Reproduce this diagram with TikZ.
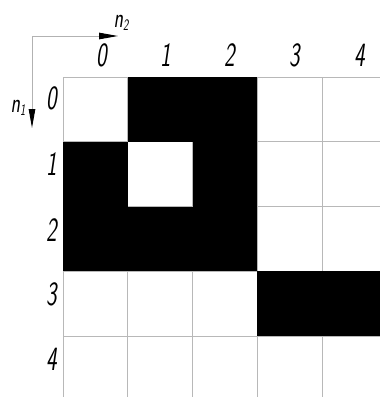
\documentclass[tikz,border=0pt]{standalone}
\usepackage{fontspec}
\usetikzlibrary{arrows.meta}
\begin{document}
\begin{tikzpicture}[x=1pt,y=-1pt,
  gridline/.style={draw=black!28,line width=0.9pt},
  axisline/.style={draw=black!30,line width=1pt},
  tipstyle/.style={-{Triangle[length=19pt,width=6.5pt,color=black]}},
  lbl/.style={inner sep=0pt,font=\fontsize{34}{34}\sffamily\itshape,xscale=0.66},
  nlbl/.style={inner sep=0pt,font=\fontsize{28}{28}\sffamily\itshape,xscale=0.7},
  cell/.style={fill=black}]
\useasboundingbox (0,0) rectangle (380,397);
\def\cw{64.75}
\begin{scope}
\clip (0,0) rectangle (380,397);
% grid
\foreach \k in {0,...,5}{
  \draw[gridline] ({63+\k*\cw},77) -- ({63+\k*\cw},400);
  \draw[gridline] (63,{77+\k*\cw}) -- (390,{77+\k*\cw});
}
% black cells (row, col)
\foreach \r/\c in {0/1,0/2,1/0,1/2,2/0,2/1,2/2,3/3,3/4}{
  \fill[cell] ({63+\c*\cw},{77+\r*\cw}) rectangle ++(\cw,\cw);
}
\end{scope}
% axes
\coordinate (o) at (32,36);
\coordinate (xe) at (118,36);
\coordinate (ye) at (32,128);
\draw[axisline,tipstyle] (o) -- (xe);
\draw[axisline,tipstyle] (o) -- (ye);
\node[nlbl] (n2) at (121,23) {n\raisebox{-0.3ex}{\fontsize{16}{16}\selectfont 2}};
\node[nlbl] (n1) at (18,108) {n\raisebox{-0.3ex}{\fontsize{16}{16}\selectfont 1}};
% column labels
\node[lbl] (c0) at (102,55) {0};
\node[lbl] (c1) at (166,55) {1};
\node[lbl] (c2) at (230,55) {2};
\node[lbl] (c3) at (295,55) {3};
\node[lbl] (c4) at (360,55) {4};
% row labels
\node[lbl] (r0) at (52,98) {0};
\node[lbl] (r1) at (52,164) {1};
\node[lbl] (r2) at (52,230) {2};
\node[lbl] (r3) at (52,294) {3};
\node[lbl] (r4) at (52,359) {4};
\end{tikzpicture}
\end{document}
